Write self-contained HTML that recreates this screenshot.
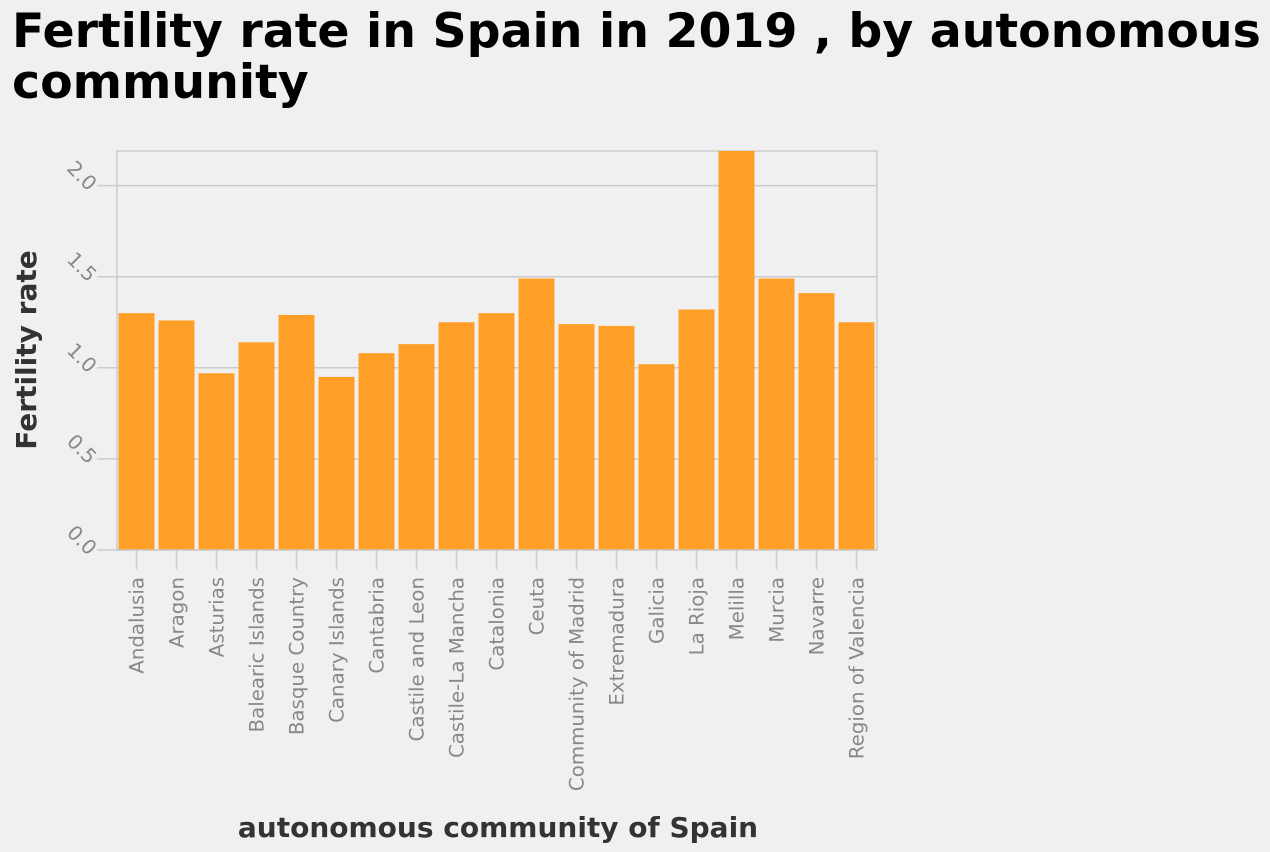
<!DOCTYPE html>
<html><head><meta charset="utf-8"><style>
body{margin:0;background:#f0f0f0;width:1270px;height:852px;overflow:hidden;font-family:"DejaVu Sans","Liberation Sans",sans-serif}
h1{position:absolute;left:12px;top:6px;margin:0;font-size:47.4px;line-height:51px;font-weight:bold;color:#000;width:1268px;font-family:"DejaVu Sans",sans-serif}
</style></head><body>
<h1>Fertility rate in Spain in 2019 , by autonomous community</h1>
<svg id="c" width="1270" height="852" style="position:absolute;left:0;top:0"></svg>
<script>
const categories=["Andalusia","Aragon","Asturias","Balearic Islands","Basque Country","Canary Islands","Cantabria","Castile and Leon","Castile-La Mancha","Catalonia","Ceuta","Community of Madrid","Extremadura","Galicia","La Rioja","Melilla","Murcia","Navarre","Region of Valencia"];
const values=[1.30,1.26,0.97,1.14,1.29,0.95,1.08,1.13,1.25,1.30,1.49,1.24,1.23,1.02,1.32,2.19,1.49,1.41,1.25];
const yTicks=[0,0.5,1.0,1.5,2.0];
const yTickLabels=["0.0","0.5","1.0","1.5","2.0"];
const NS="http://www.w3.org/2000/svg";
const svg=document.getElementById('c');
const L=117,R=877,T=151,B=550,YMAX=2.19;
const y=v=>B-(v/YMAX)*(B-T);
const band=(R-L)/categories.length;
const x=i=>L+i*band;
function mk(t,a){const e=document.createElementNS(NS,t);for(const k in a)e.setAttribute(k,a[k]);svg.appendChild(e);return e;}
let f=mk('rect',{x:L,y:T,width:R-L,height:B-T,fill:'none',stroke:'#cccccc','stroke-width':1.5});


yTicks.forEach((v,i)=>{
 const g=mk('line',{x1:97,x2:R,y1:y(v),y2:y(v),stroke:'#cccccc','stroke-width':1.5});
 
 
 const t=mk('text',{x:0,y:0,transform:`translate(77,${y(v)-5}) rotate(45)`,'text-anchor':'middle','font-size':'20','fill':'#888'});
 t.textContent=yTickLabels[i];
 
 
});
categories.forEach((c,i)=>{
 const b=mk('rect',{x:x(i)+1.5,y:y(values[i]),width:band-4,height:B-y(values[i]),fill:'#ff9f27'});
 
 
 const cx=x(i)+band/2-0.5;
 const tk=mk('line',{x1:cx,x2:cx,y1:B,y2:B+19,stroke:'#cccccc','stroke-width':1.5});
 
 
 const t=mk('text',{x:0,y:0,transform:`translate(${cx+7},577) rotate(-90)`,'text-anchor':'end','font-size':'19.8','fill':'#888'});
 t.textContent=c;
 
 
});
const ax=mk('line',{x1:L,x2:R,y1:B,y2:B,stroke:'#cccccc','stroke-width':1.5});


const xt=mk('text',{x:498,y:837,'text-anchor':'middle','font-size':'28','font-weight':'bold','fill':'#333'});
xt.textContent='autonomous community of Spain';


const yt=mk('text',{x:0,y:0,transform:'translate(36,350) rotate(-90)','text-anchor':'middle','font-size':'28','font-weight':'bold','fill':'#333'});
yt.textContent='Fertility rate';


</script>
</body></html>
